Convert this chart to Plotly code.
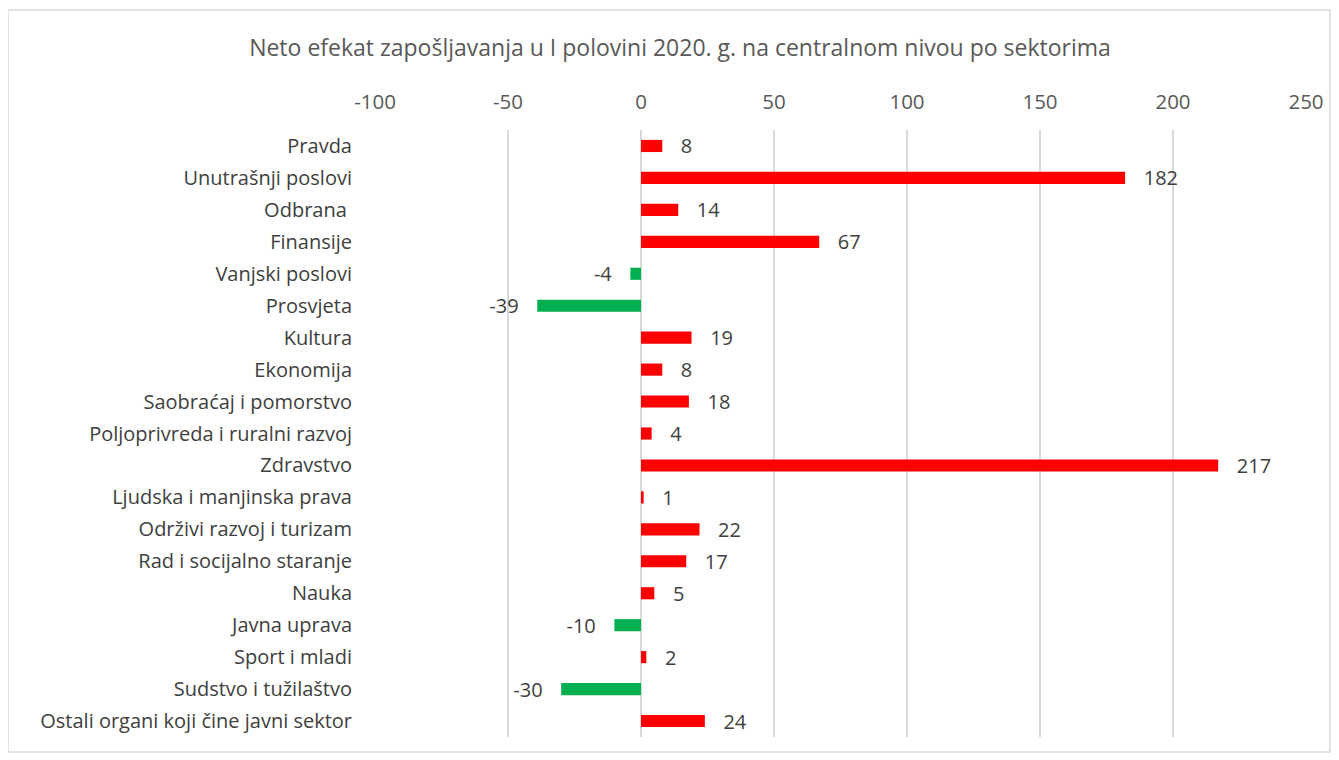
import plotly.graph_objects as go

categories = ["Pravda", "Unutrašnji poslovi", "Odbrana ", "Finansije", "Vanjski poslovi",
              "Prosvjeta", "Kultura", "Ekonomija", "Saobraćaj i pomorstvo",
              "Poljoprivreda i ruralni razvoj", "Zdravstvo", "Ljudska i manjinska prava",
              "Održivi razvoj i turizam", "Rad i socijalno staranje", "Nauka", "Javna uprava",
              "Sport i mladi", "Sudstvo i tužilaštvo", "Ostali organi koji čine javni sektor"]
values = [8, 182, 14, 67, -4, -39, 19, 8, 18, 4, 217, 1, 22, 17, 5, -10, 2, -30, 24]
x_ticks = [-100, -50, 0, 50, 100, 150, 200, 250]

colors = ["#FF0000" if v >= 0 else "#00B050" for v in values]
texts = [("   %d" % v) if v >= 0 else ("%d   " % v) for v in values]

FONT = "Open Sans"
OFF = 8  # page body margin
W, H = 1339 - OFF, 760 - OFF
L, T = 375 - OFF, 130 - OFF
pw, ph = 931, 607
R, B = W - L - pw, H - T - ph

fig = go.Figure(go.Bar(
    x=values, y=categories, orientation="h",
    marker=dict(color=colors, line=dict(width=0)),
    text=texts, textposition="outside", cliponaxis=False, constraintext="none",
    textfont=dict(family=FONT, size=20, color="#404040"),
    hoverinfo="skip",
))

fig.update_layout(
    width=W, height=H,
    margin=dict(l=L, r=R, t=T, b=B),
    paper_bgcolor="white", plot_bgcolor="white",
    bargap=0.62, showlegend=False,
    title=dict(text="Neto efekat zapošljavanja u I polovini 2020. g. na centralnom nivou po sektorima",
               x=(680 - OFF) / W, xanchor="center", y=1 - (48 - OFF) / H, yanchor="middle",
               font=dict(family=FONT, size=23, color="#595959")),
    font=dict(family=FONT),
    xaxis=dict(side="top", range=[-100, 250], tickvals=x_ticks, ticktext=[str(t) for t in x_ticks],
               showgrid=True, gridcolor="#D9D9D9", gridwidth=1.5, zeroline=True,
               zerolinecolor="#D9D9D9", zerolinewidth=1.5, showline=False, ticks="",
               ticklabelstandoff=16,
               tickfont=dict(family=FONT, size=20.5, color="#595959")),
    yaxis=dict(categoryorder="array", categoryarray=categories[::-1], autorange=True,
               showgrid=False, showline=False, ticks="", ticklabelstandoff=22,
               tickfont=dict(family=FONT, size=20, color="#404040")),
    shapes=[dict(type="rect", xref="paper", yref="paper",
                 x0=(8 - 375) / pw, x1=(1330 - 375) / pw,
                 y0=(737 - 752) / ph, y1=(737 - 10) / ph,
                 line=dict(color="#D9D9D9", width=1.5), fillcolor="rgba(0,0,0,0)", layer="below")],
)

fig.write_html("out.html")
